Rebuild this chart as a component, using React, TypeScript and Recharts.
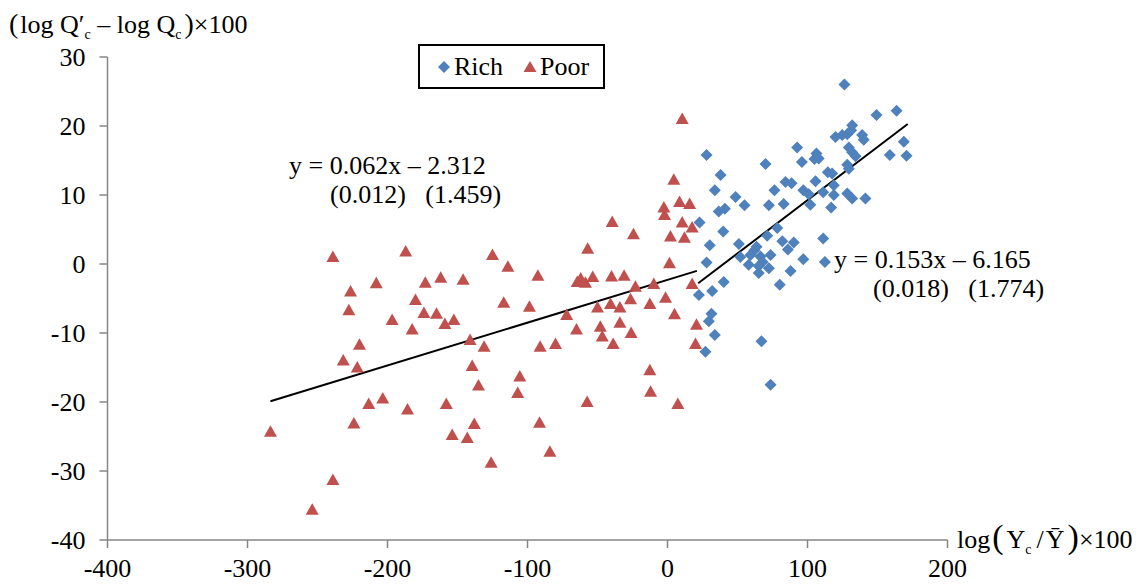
import React from "react";
import { ScatterChart, Scatter, XAxis, YAxis, ReferenceLine } from "recharts";

const xTicks = [-400, -300, -200, -100, 0, 100, 200];
const yTicks = [-40, -30, -20, -10, 0, 10, 20, 30];

const richX = [27.9, 92.6, 70, 96, 37.9, 33.8, 76.4, 84.3, 88.6, 97, 48.6, 55, 72.4, 83, 36.6, 41, 22.9, 39.8, 78.4, 71.2, 82, 30.2, 51, 63.6, 86, 90.2, 97, 52, 59.3, 66.4, 73.6, 58, 65.2, 27.9, 72.4, 65.2, 87.9, 40.2, 31.9, 22.4, 80.2, 31.4, 29.5, 33.8, 27.1, 67.1, 73.6, 62, 68,
  126.4, 149.3, 163.6, 131.9, 131.2, 120, 124.8, 128.4, 139, 140.2, 168.8, 158.8, 170.7, 129.5, 131.9, 134.3, 106.4, 108, 105, 128.4, 129.5, 114.5, 117.6, 105.7, 118.8, 100.9, 111.2, 128.4, 131.9, 141.4, 118.8, 102, 116.9, 111.2, 112.4];
const richY = [15.8, 16.9, 14.5, 14.8, 12.9, 10.7, 10.7, 11.9, 11.7, 10.7, 9.7, 8.5, 8.5, 8.7, 7.6, 8.0, 6.0, 4.7, 5.2, 4.1, 3.3, 2.7, 2.9, 2.5, 2.1, 3.1, 0.7, 1.0, 1.3, 1.1, 1.3, -0.1, -0.3, 0.2, -0.6, -1.3, -1.0, -2.6, -3.9, -4.5, -3.0, -7.2, -8.3, -10.3, -12.7, -11.2, -17.5, 2.0, 0.3,
  26.0, 21.6, 22.2, 20.1, 19.4, 18.4, 18.7, 18.8, 18.7, 18.0, 17.7, 15.8, 15.7, 16.9, 16.2, 15.6, 16.0, 15.3, 15.2, 14.4, 13.8, 13.3, 13.1, 12.0, 11.4, 10.1, 10.4, 10.2, 9.5, 9.5, 10.0, 8.6, 8.2, 3.7, 0.3];

const poorX = [-283.6, -253.8, -239, -239, -231.6, -227.6, -226.4, -224, -221.6, -220, -213.4, -208, -203.4, -196.7, -187, -185.7, -182.4, -180, -174, -173, -165, -162, -159, -158, -153.8, -152.6,
  -146, -143, -141, -139.5, -138, -135, -131, -126, -125, -117, -114, -107, -105.5, -98.6, -92.6, -91.4, -91, -84, -80, -72, -65, -64.5, -62, -58.6, -57.4, -57, -53.4, -50, -48, -46.6, -40.7, -40, -39.5, -38.8,
  -34, -34, -31, -26.4, -26, -24.3, -22.9, -12.6, -12.6, -12.1, -9.8, -2.6, -2.1, -1.4, 1.4, 2.1, 4.5, 5, 7.4, 8.6, 10.5, 10.5, 12.1, 15.8, 17.6, 17.6, 20.7, 20];
const poorY = [-24.3, -35.6, 1.0, -31.3, -14.0, -6.7, -4.0, -23.1, -15.0, -11.7, -20.3, -2.8, -19.5, -8.1, 1.8, -21.1, -9.5, -5.2, -7.1, -2.7, -7.2, -2.0, -8.7, -20.3, -24.8, -8.1,
  -2.3, -25.2, -11.0, -14.8, -23.2, -17.6, -12.0, -28.8, 1.3, -5.6, -0.4, -18.7, -16.3, -6.2, -1.7, -23.0, -12.0, -27.2, -11.6, -7.4, -9.5, -2.6, -2.1, -2.7, -20.0, 2.2, -1.9, -6.3, -9.1, -10.5, -5.8, -1.8, 6.1, -11.6,
  -6.3, -8.5, -1.7, -5.1, -10.0, 4.3, -3.3, -5.8, -15.4, -18.5, -2.9, 8.2, 7.1, -4.9, 0.1, 4.0, 12.2, -7.3, -20.3, 9.0, 21.0, 6.0, 3.8, 8.7, 5.3, -2.9, -8.8, -11.6];

const poorFitX = [-283.6, 21];
const poorFitY = [-19.9, -1.0];
const richFitX = [21.9, 171.6];
const richFitY = [-2.8, 20.3];

const seriesNames = ["Rich", "Poor"];
const RICH = "#4F81BD";
const POOR = "#C0504D";
const FONT = "Liberation Serif";
const FS = 26;

const rich = richX.map((x, i) => ({ x, y: richY[i] }));
const poor = poorX.map((x, i) => ({ x, y: poorY[i] }));

const Diamond = (p: any) => {
  const { cx, cy } = p;
  if (cx == null || cy == null) return null;
  const r = 6;
  return <path d={`M${cx},${cy - r}L${cx + r},${cy}L${cx},${cy + r}L${cx - r},${cy}Z`} fill={RICH} />;
};
const Triangle = (p: any) => {
  const { cx, cy } = p;
  if (cx == null || cy == null) return null;
  return <path d={`M${cx},${cy - 6.5}L${cx + 6.5},${cy + 5}L${cx - 6.5},${cy + 5}Z`} fill={POOR} />;
};

export default function App() {
  const W = 1124;
  const H = 580;
  return (
    <div style={{ position: "relative", width: W, height: H, fontFamily: FONT }}>
      <style>{`#root text, #root tspan, #root div, #root span { font-family: "Liberation Serif", serif !important; }`}</style>
      <ScatterChart width={W} height={H} margin={{ top: 49, right: 184.5, bottom: 8, left: 0 }} style={{ fontFamily: FONT }}>
        <XAxis
          type="number"
          dataKey="x"
          domain={[-400, 200]}
          ticks={xTicks}
          interval={0}
          height={40}
          stroke="#868686"
          strokeWidth={1.5}
          tickSize={8}
          tickMargin={11}
          tick={{ fill: "#000", fontSize: FS, fontFamily: FONT }}
          allowDataOverflow
        />
        <YAxis
          type="number"
          dataKey="y"
          domain={[-40, 30]}
          ticks={yTicks}
          interval={0}
          width={99.5}
          stroke="#868686"
          strokeWidth={1.5}
          tickSize={8}
          tickMargin={14}
          tick={{ fill: "#000", fontSize: FS, fontFamily: FONT }}
          allowDataOverflow
        />
        <Scatter name={seriesNames[0]} data={rich} shape={Diamond} isAnimationActive={false} />
        <Scatter name={seriesNames[1]} data={poor} shape={Triangle} isAnimationActive={false} />
        <ReferenceLine
          segment={[{ x: poorFitX[0], y: poorFitY[0] }, { x: poorFitX[1], y: poorFitY[1] }]}
          stroke="#000"
          strokeWidth={2}
        />
        <ReferenceLine
          segment={[{ x: richFitX[0], y: richFitY[0] }, { x: richFitX[1], y: richFitY[1] }]}
          stroke="#000"
          strokeWidth={2}
        />
      </ScatterChart>
      <svg width={W} height={H} style={{ position: "absolute", left: 0, top: 0, pointerEvents: "none" }}>
        <text x={1} y={25} fontFamily={FONT} fontSize={FS} fill="#000">
          <tspan fontSize={28}>(</tspan>
          <tspan dx={2}>log Q</tspan>
          <tspan>′</tspan>
          <tspan fontSize={14} dy={6}>c</tspan>
          <tspan dy={-6}> – log Q</tspan>
          <tspan fontSize={14} dy={6}>c</tspan>
          <tspan fontSize={28} dy={-6} dx={3}>)</tspan>
          <tspan>×100</tspan>
        </text>
        <text x={949} y={540} fontFamily={FONT} fontSize={FS} fill="#000">
          <tspan>log</tspan>
          <tspan fontSize={34} dx={2}>(</tspan>
          <tspan dx={3}>Y</tspan>
          <tspan fontSize={14} dy={6}>c</tspan>
          <tspan dy={-6} dx={5}>/</tspan>
          <tspan dx={2}>Ȳ</tspan>
          <tspan fontSize={34} dx={3}>)</tspan>
          <tspan>×100</tspan>
        </text>
        <text x={281} y={166} fontFamily={FONT} fontSize={FS} fill="#000">y = 0.062x – 2.312</text>
        <text x={322} y={195} fontFamily={FONT} fontSize={FS} fill="#000" style={{ whiteSpace: "pre" }}>(0.012)   (1.459)</text>
        <text x={826} y={260} fontFamily={FONT} fontSize={FS} fill="#000">y = 0.153x – 6.165</text>
        <text x={865} y={289} fontFamily={FONT} fontSize={FS} fill="#000" style={{ whiteSpace: "pre" }}>(0.018)   (1.774)</text>
      </svg>
      <div
        style={{
          position: "absolute",
          left: 410,
          top: 36,
          width: 183,
          height: 41,
          border: "2px solid #000",
          background: "#fff",
          display: "flex",
          alignItems: "center",
          fontFamily: FONT,
          fontSize: FS,
          color: "#000",
        }}
      >
        <svg width={14} height={14} style={{ marginLeft: 17 }}>
          <path d="M7,1L13,7L7,13L1,7Z" fill={RICH} />
        </svg>
        <span style={{ marginLeft: 3 }}>{seriesNames[0]}</span>
        <svg width={14} height={14} style={{ marginLeft: 20 }}>
          <path d="M7,1L13.5,12L0.5,12Z" fill={POOR} />
        </svg>
        <span style={{ marginLeft: 3 }}>{seriesNames[1]}</span>
      </div>
    </div>
  );
}
